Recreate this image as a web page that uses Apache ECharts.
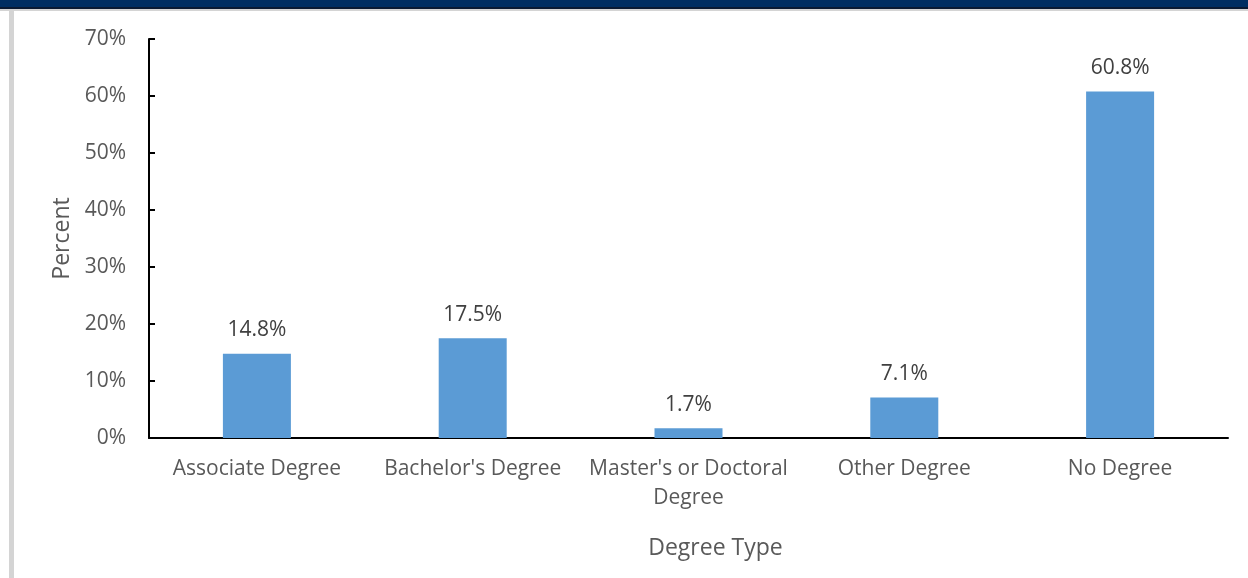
<!DOCTYPE html>
<html>
<head>
<meta charset="utf-8">
<script src="https://cdn.jsdelivr.net/npm/echarts@6/dist/echarts.min.js"></script>
<style>
  html, body { margin: 0; padding: 0; background: #fff; }
  #chart { width: 1248px; height: 578px; }
</style>
</head>
<body>
<div id="chart"></div>
<script>
const categories = ['Associate Degree', "Bachelor's Degree", "Master's or Doctoral\nDegree", 'Other Degree', 'No Degree']
const percentValues = [14.8, 17.5, 1.7, 7.1, 60.8]
const yTicks = [0, 10, 20, 30, 40, 50, 60, 70]

const fontFamily = '"Open Sans", "Noto Sans", sans-serif'

const chart = echarts.init(document.getElementById('chart'), null, { renderer: 'canvas' })

chart.setOption({
  backgroundColor: '#ffffff',
  animation: false,
  graphic: [
    // header band and left frame strip
    { type: 'rect', left: 0, top: 0, shape: { width: 1248, height: 7 }, style: { fill: '#002e62' } },
    { type: 'rect', left: 0, top: 7, shape: { width: 1248, height: 2 }, style: { fill: '#0a1a33' } },
    { type: 'rect', left: 0, top: 9, shape: { width: 1248, height: 2 }, style: { fill: '#d4d4d4' } },
    { type: 'rect', left: 9, top: 10, shape: { width: 5, height: 568 }, style: { fill: '#d4d4d4' } }
  ],
  grid: { left: 149, right: 20, top: 39, bottom: 140, containLabel: false },
  xAxis: {
    type: 'category',
    data: categories,
    name: 'Degree Type',
    nameLocation: 'middle',
    nameGap: 99,
    nameTextStyle: { color: '#595959', fontSize: 23, fontFamily, padding: [0, 0, 0, 54] },
    axisLine: { lineStyle: { color: '#000', width: 2 } },
    axisTick: { show: false },
    axisLabel: { color: '#595959', fontSize: 21, fontFamily, margin: 17, lineHeight: 29, interval: 0 }
  },
  yAxis: {
    type: 'value',
    min: 0,
    max: 70,
    interval: 10,
    name: 'Percent',
    nameLocation: 'middle',
    nameGap: 74,
    nameTextStyle: { color: '#595959', fontSize: 23, fontFamily },
    axisLine: { show: true, lineStyle: { color: '#000', width: 2 } },
    axisTick: { show: true, inside: true, length: 6, lineStyle: { color: '#000', width: 2 } },
    splitLine: { show: false },
    axisLabel: {
      color: '#595959', fontSize: 21, fontFamily, margin: 23,
      formatter: v => yTicks.includes(v) ? v + '%' : ''
    }
  },
  series: [{
    type: 'bar',
    data: percentValues,
    barWidth: 68,
    itemStyle: { color: '#5b9bd5' },
    label: {
      show: true,
      position: 'top',
      distance: 13,
      color: '#404040',
      fontSize: 21,
      fontFamily,
      formatter: p => p.value.toFixed(1) + '%'
    }
  }]
})
</script>
</body>
</html>
